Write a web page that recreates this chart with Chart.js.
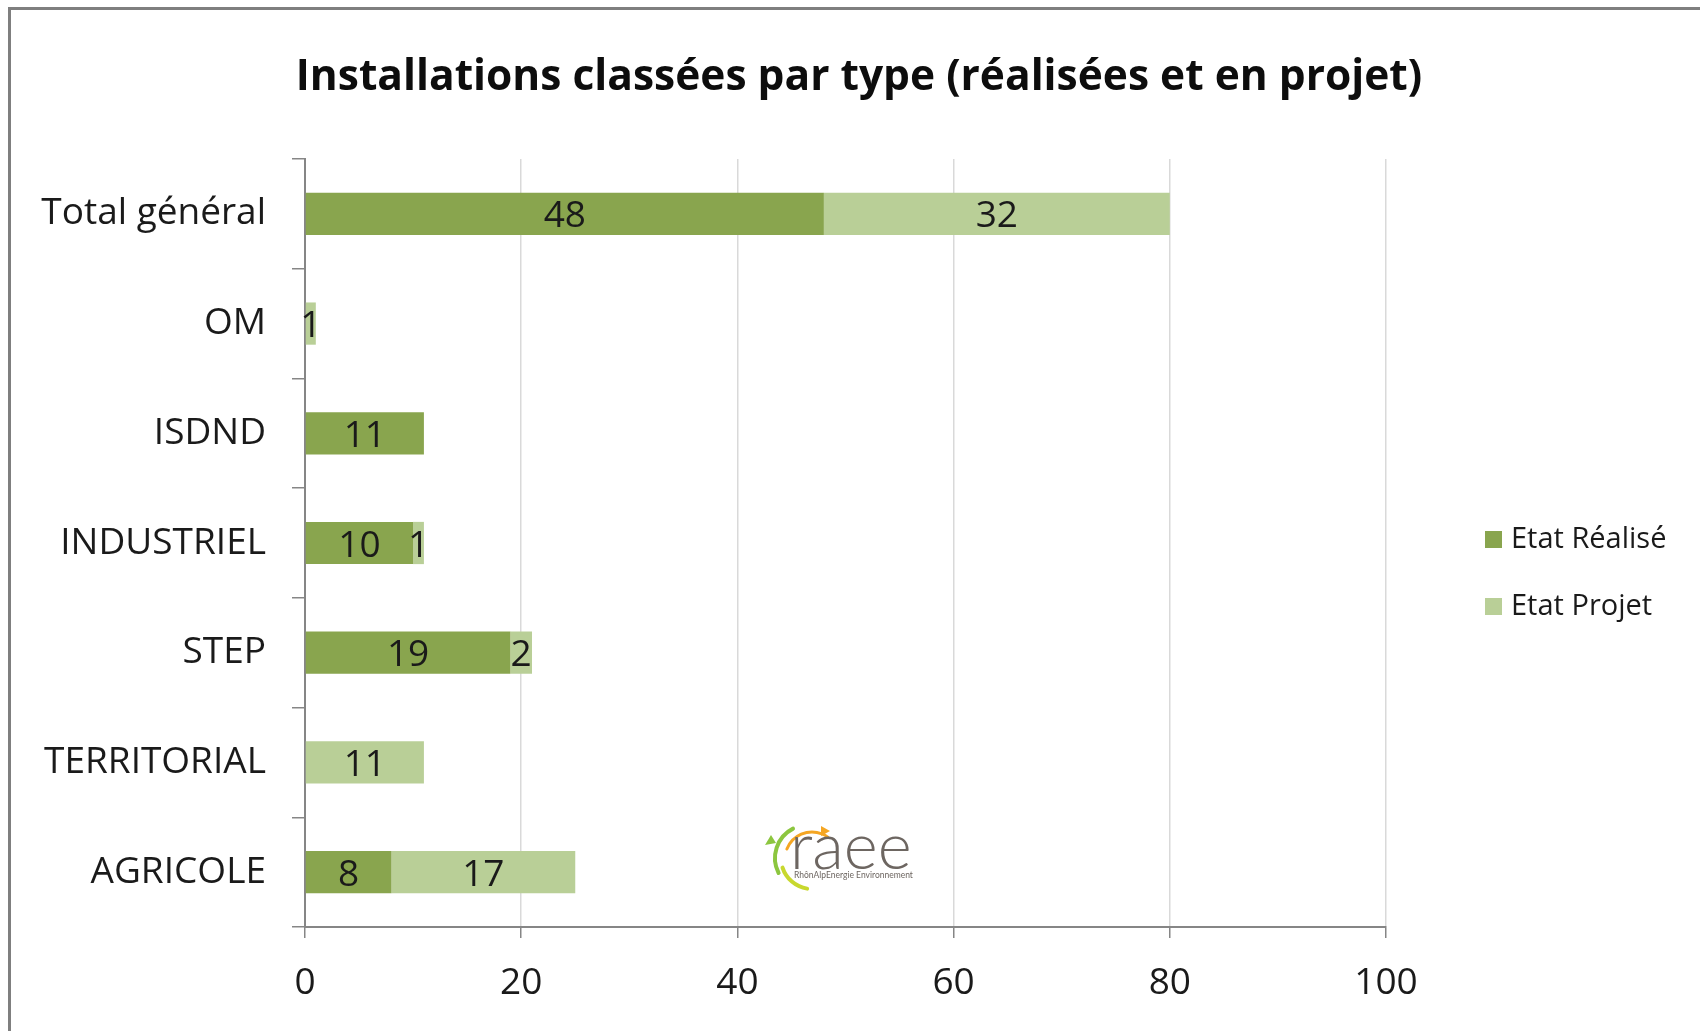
<!DOCTYPE html>
<html>
<head>
<meta charset="utf-8">
<script src="https://cdn.jsdelivr.net/npm/chart.js@4"></script>
<style>
    html, body { margin: 0; padding: 0; background: #fff; }
    #wrap { width: 1700px; height: 1031px; }
</style>
</head>
<body>
<div id="wrap"><canvas id="chart" width="1700" height="1031"></canvas></div>
<script>
const categories = ["Total général", "OM", "ISDND", "INDUSTRIEL", "STEP", "TERRITORIAL", "AGRICOLE"];
const realiseValues = [48, 0, 11, 10, 19, 0, 8];
const projetValues = [32, 1, 0, 1, 2, 11, 17];
const xTicks = [0, 20, 40, 60, 80, 100];
const chartTitle = "Installations classées par type (réalisées et en projet)";

const FONT = "'Open Sans', Lato, sans-serif";
const darkGreen = "#89a54e";
const lightGreen = "#b9cf97";

/* frame, title, data labels, legend, logo */

const framePlugin = {
    id: "frame",
    beforeDraw(chart) {
        const ctx = chart.ctx;
        ctx.save();
        ctx.fillStyle = "#fff";
        ctx.fillRect(0, 0, chart.width, chart.height);
        ctx.strokeStyle = "#7f7f7f";
        ctx.lineWidth = 3;
        ctx.beginPath();
        ctx.moveTo(9.5, chart.height);
        ctx.lineTo(9.5, 8.5);
        ctx.lineTo(chart.width, 8.5);
        ctx.stroke();

        ctx.font = "bold 42.5px " + FONT;
        ctx.fillStyle = "#0d0d0d";
        ctx.textAlign = "center";
        ctx.textBaseline = "middle";
        ctx.fillText(chartTitle, 859, 78);
        ctx.restore();
    }
};

const valueLabels = {
    id: "valueLabels",
    afterDatasetsDraw(chart) {
        const ctx = chart.ctx;
        ctx.save();
        ctx.font = "37px " + FONT;
        ctx.fillStyle = "#1a1a1a";
        ctx.textAlign = "center";
        ctx.textBaseline = "middle";
        chart.data.datasets.forEach((ds, i) => {
            chart.getDatasetMeta(i).data.forEach((bar, j) => {
                const v = ds.data[j];
                if (!v) return;
                ctx.fillText(String(v), (bar.x + bar.base) / 2, bar.y + 3);
            });
        });
        ctx.restore();
    }
};

const sideLegend = {
    id: "sideLegend",
    afterDraw(chart) {
        const ctx = chart.ctx;
        const rows = [539, 606];
        ctx.save();
        ctx.font = "29px " + FONT;
        ctx.textBaseline = "middle";
        chart.data.datasets.forEach((ds, i) => {
            ctx.fillStyle = ds.backgroundColor;
            ctx.fillRect(1485, rows[i] - 8, 17, 17);
            ctx.fillStyle = "#1a1a1a";
            ctx.fillText(ds.label, 1511, rows[i] + 1);
        });
        ctx.restore();
    }
};

const logoPlugin = {
    id: "logo",
    afterDraw(chart) {
        const ctx = chart.ctx;
        ctx.save();
        // swirl arcs
        ctx.lineCap = "round";
        ctx.lineWidth = 4;
        ctx.strokeStyle = "#8cc63f";
        ctx.beginPath();
        ctx.arc(808, 858, 33, Math.PI * 0.85, Math.PI * 1.35);
        ctx.stroke();
        ctx.strokeStyle = "#c8d82e";
        ctx.beginPath();
        ctx.arc(812, 858, 31, Math.PI * 0.55, Math.PI * 0.9);
        ctx.stroke();
        ctx.strokeStyle = "#f5a623";
        ctx.lineWidth = 3;
        ctx.beginPath();
        ctx.arc(812, 859, 27, Math.PI * 1.12, Math.PI * 1.7);
        ctx.stroke();
        ctx.fillStyle = "#f5a623";
        ctx.beginPath();
        ctx.moveTo(830, 831);
        ctx.lineTo(821, 826);
        ctx.lineTo(821, 836);
        ctx.fill();
        ctx.fillStyle = "#8cc63f";
        ctx.beginPath();
        ctx.moveTo(771, 835);
        ctx.lineTo(765, 845);
        ctx.lineTo(776, 843);
        ctx.fill();
        // text
        ctx.fillStyle = "#6d6661";
        ctx.font = "300 65px Lato, sans-serif";
        ctx.textBaseline = "alphabetic";
        ctx.fillText("raee", 790, 869);
        ctx.font = "8.5px Lato, sans-serif";
        ctx.fillText("RhônAlpEnergie Environnement", 794, 878);
        ctx.restore();
    }
};

new Chart(document.querySelector("#chart"), {
    type: "bar",
    data: {
        labels: categories,
        datasets: [
            {
                label: "Etat Réalisé",
                data: realiseValues,
                backgroundColor: darkGreen,
                barPercentage: 0.385,
                categoryPercentage: 1
            },
            {
                label: "Etat Projet",
                data: projetValues,
                backgroundColor: lightGreen,
                barPercentage: 0.385,
                categoryPercentage: 1
            }
        ]
    },
    options: {
        indexAxis: "y",
        responsive: false,
        animation: false,
        layout: {
            padding: { left: 20, right: 314, top: 159, bottom: 0 }
        },
        plugins: {
            legend: { display: false },
            tooltip: { enabled: false },
            title: { display: false }
        },
        scales: {
            x: {
                stacked: true,
                min: 0,
                max: 100,
                afterBuildTicks: scale => {
                    scale.ticks = xTicks.map(v => ({ value: v }));
                },
                afterFit: scale => { scale.height = 104; },
                grid: {
                    color: "#d9d9d9",
                    tickColor: "#868686",
                    tickLength: 11,
                    lineWidth: 1.5
                },
                border: { color: "#868686", width: 2 },
                ticks: {
                    color: "#1a1a1a",
                    padding: 23,
                    font: { family: FONT, size: 37 }
                }
            },
            y: {
                stacked: true,
                afterFit: scale => { scale.width = 285; },
                grid: {
                    offset: true,
                    drawOnChartArea: false,
                    tickColor: "#868686",
                    tickLength: 13,
                    lineWidth: 1.5
                },
                border: { color: "#868686", width: 2 },
                ticks: {
                    color: "#1a1a1a",
                    padding: 26,
                    font: { family: FONT, size: 37 }
                }
            }
        }
    },
    plugins: [framePlugin, valueLabels, sideLegend, logoPlugin]
});
</script>
</body>
</html>
